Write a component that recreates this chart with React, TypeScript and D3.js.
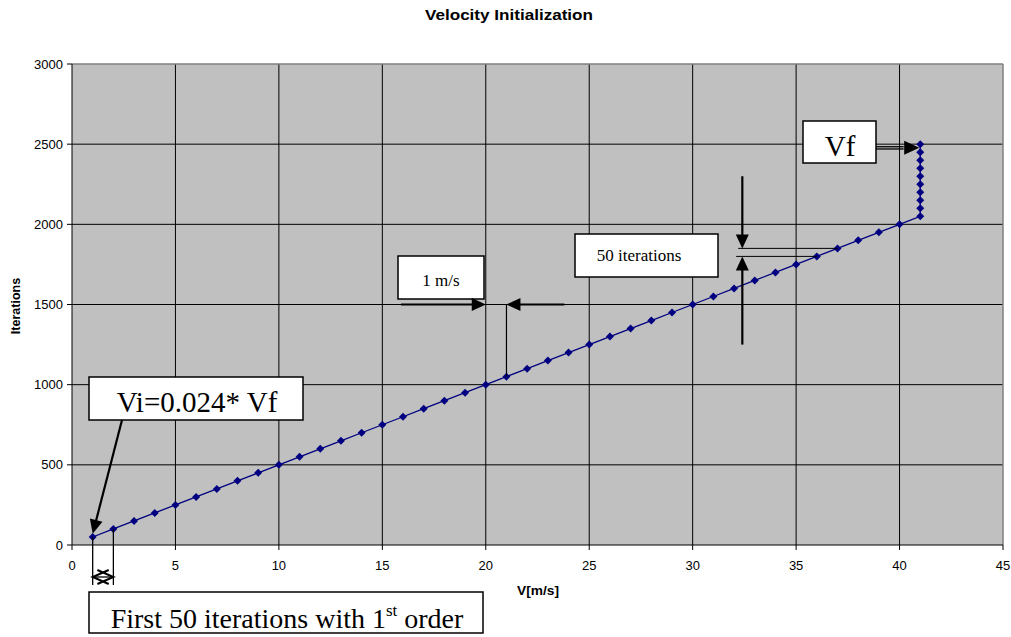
import React from "react";
import * as d3 from "d3";

const velocities: number[] = [
  1, 2, 3, 4, 5, 6, 7, 8, 9, 10, 11, 12, 13, 14, 15, 16, 17, 18, 19, 20,
  21, 22, 23, 24, 25, 26, 27, 28, 29, 30, 31, 32, 33, 34, 35, 36, 37, 38, 39, 40,
  41, 41, 41, 41, 41, 41, 41, 41, 41, 41,
];
const iterations: number[] = [
  50, 100, 150, 200, 250, 300, 350, 400, 450, 500, 550, 600, 650, 700, 750, 800, 850, 900, 950, 1000,
  1050, 1100, 1150, 1200, 1250, 1300, 1350, 1400, 1450, 1500, 1550, 1600, 1650, 1700, 1750, 1800, 1850, 1900, 1950, 2000,
  2050, 2100, 2150, 2200, 2250, 2300, 2350, 2400, 2450, 2500,
];
const xTicks: number[] = [0, 5, 10, 15, 20, 25, 30, 35, 40, 45];
const yTicks: number[] = [0, 500, 1000, 1500, 2000, 2500, 3000];

const W = 1011;
const H = 637;
const left = 72, right = 1003, top = 64, bottom = 545;
const SANS = "'Liberation Sans', Arial, sans-serif";
const SERIF = "'Liberation Serif', 'Times New Roman', serif";

function arrowHead(x: number, y: number, angle: number, len = 14, half = 6.5) {
  const bx = x - len * Math.cos(angle);
  const by = y - len * Math.sin(angle);
  const px = -Math.sin(angle) * half;
  const py = Math.cos(angle) * half;
  return `M${x},${y}L${bx + px},${by + py}L${bx - px},${by - py}Z`;
}

function Arrow({ x1, y1, x2, y2, w = 2.2 }: { x1: number; y1: number; x2: number; y2: number; w?: number }) {
  const a = Math.atan2(y2 - y1, x2 - x1);
  const len = 14;
  const ex = x2 - (len - 1) * Math.cos(a);
  const ey = y2 - (len - 1) * Math.sin(a);
  return (
    <g>
      <line x1={x1} y1={y1} x2={ex} y2={ey} stroke="#000" strokeWidth={w} />
      <path d={arrowHead(x2, y2, a, len)} fill="#000" />
    </g>
  );
}

export default function App() {
  const x = d3.scaleLinear().domain([0, 45]).range([left, right]);
  const y = d3.scaleLinear().domain([0, 3000]).range([bottom, top]);
  const pts = velocities.map((v, i) => [x(v), y(iterations[i])] as [number, number]);
  const line = d3.line()(pts) || "";
  const d = 4;

  return (
    <svg width={W} height={H} style={{ position: "absolute", left: 0, top: 0, background: "#fff" }}>
      <rect width={W} height={H} fill="#fff" />
      <text x={509} y={20} textAnchor="middle" fontFamily={SANS} fontWeight="bold" fontSize={15} textLength={168} lengthAdjust="spacingAndGlyphs">
        Velocity Initialization
      </text>

      {/* plot area */}
      <rect x={left} y={top} width={right - left} height={bottom - top} fill="#C0C0C0" />
      {xTicks.slice(1, -1).map((t) => (
        <line key={"gx" + t} x1={x(t)} x2={x(t)} y1={top} y2={bottom} stroke="#000" strokeWidth={1} />
      ))}
      {yTicks.slice(1, -1).map((t) => (
        <line key={"gy" + t} x1={left} x2={right} y1={y(t)} y2={y(t)} stroke="#000" strokeWidth={1} />
      ))}
      <line x1={left} x2={right} y1={top} y2={top} stroke="#808080" strokeWidth={1.5} />
      <line x1={right} x2={right} y1={top} y2={bottom} stroke="#808080" strokeWidth={1.5} />

      {/* axes */}
      <line x1={left} x2={left} y1={top} y2={bottom} stroke="#000" strokeWidth={1} />
      <line x1={left} x2={right} y1={bottom} y2={bottom} stroke="#000" strokeWidth={1} />
      {yTicks.map((t) => (
        <g key={"ty" + t}>
          <line x1={left - 5} x2={left} y1={y(t)} y2={y(t)} stroke="#000" />
          <text x={left - 9} y={y(t) + 4.5} textAnchor="end" fontFamily={SANS} fontSize={13}>
            {t}
          </text>
        </g>
      ))}
      {xTicks.map((t) => (
        <g key={"tx" + t}>
          <line x1={x(t)} x2={x(t)} y1={bottom} y2={bottom + 5} stroke="#000" />
          <text x={x(t)} y={bottom + 25} textAnchor="middle" fontFamily={SANS} fontSize={13}>
            {t}
          </text>
        </g>
      ))}
      <text x={538} y={595} textAnchor="middle" fontFamily={SANS} fontWeight="bold" fontSize={13} textLength={42} lengthAdjust="spacingAndGlyphs">
        V[m/s]
      </text>
      <text transform="translate(20,306) rotate(-90)" textAnchor="middle" fontFamily={SANS} fontWeight="bold" fontSize={12.5}>
        Iterations
      </text>

      {/* series */}
      <path d={line} fill="none" stroke="#000080" strokeWidth={1.3} />
      {pts.map(([px, py], i) => (
        <path key={"m" + i} d={`M${px},${py - d}L${px + d},${py}L${px},${py + d}L${px - d},${py}Z`} fill="#000080" />
      ))}

      {/* 1 m/s annotation */}
      <rect x={398} y={256} width={86} height={43} fill="#fff" stroke="#000" strokeWidth={1.5} />
      <text x={441} y={286} textAnchor="middle" fontFamily={SERIF} fontSize={17}>1 m/s</text>
      <Arrow x1={x(15.9)} y1={y(1500)} x2={x(20)} y2={y(1500)} />
      <Arrow x1={x(23.8)} y1={y(1500)} x2={x(21)} y2={y(1500)} />
      <line x1={x(21)} x2={x(21)} y1={y(1500)} y2={y(1050)} stroke="#000" strokeWidth={1.2} />

      {/* 50 iterations annotation */}
      <rect x={575} y={234} width={143} height={43} fill="#fff" stroke="#000" strokeWidth={1.5} />
      <text x={639} y={261} textAnchor="middle" fontFamily={SERIF} fontSize={17}>50 iterations</text>
      <line x1={x(32.2)} x2={x(37)} y1={y(1850)} y2={y(1850)} stroke="#000" strokeWidth={1} />
      <line x1={x(32.1)} x2={x(36)} y1={y(1800)} y2={y(1800)} stroke="#000" strokeWidth={1} />
      <Arrow x1={x(32.4)} y1={y(2300)} x2={x(32.4)} y2={y(1850)} />
      <Arrow x1={x(32.4)} y1={y(1250)} x2={x(32.4)} y2={y(1800)} />

      {/* Vf annotation */}
      <rect x={803} y={121} width={73} height={42} fill="#fff" stroke="#000" strokeWidth={1.5} />
      <text x={840} y={156} textAnchor="middle" fontFamily={SERIF} fontSize={29}>Vf</text>
      <line x1={876} x2={x(40.2)} y1={y(2484)} y2={y(2484)} stroke="#000" strokeWidth={1.3} />
      <line x1={876} x2={x(40.2)} y1={y(2470)} y2={y(2470)} stroke="#000" strokeWidth={1.3} />
      <path d={arrowHead(x(40.95), y(2477), 0, 15, 7)} fill="#000" />

      {/* Vi annotation */}
      <rect x={89} y={377} width={214} height={43} fill="#fff" stroke="#000" strokeWidth={1.5} />
      <text x={197} y={412} textAnchor="middle" fontFamily={SERIF} fontSize={29}>
        Vi=0.024* Vf
      </text>
      <Arrow x1={122} y1={420} x2={x(1)} y2={y(70)} />

      {/* First 50 iterations bracket */}
      <line x1={x(1)} x2={x(1)} y1={y(50)} y2={585} stroke="#000" strokeWidth={1.3} />
      <line x1={x(2)} x2={x(2)} y1={y(100)} y2={585} stroke="#000" strokeWidth={1.3} />
      <line x1={x(1)} x2={x(2)} y1={577} y2={577} stroke="#000" strokeWidth={1.3} />
      <path
        d={`M${x(1) + 16},${570}L${x(1)},${577}L${x(1) + 16},${584}M${x(2) - 16},${570}L${x(2)},${577}L${x(2) - 16},${584}`}
        fill="none"
        stroke="#000"
        strokeWidth={2}
      />
      <rect x={89} y={592} width={394} height={41} fill="#fff" stroke="#000" strokeWidth={1.5} />
      <text x={287} y={628} textAnchor="middle" fontFamily={SERIF} fontSize={28}>
        First 50 iterations with 1<tspan fontSize={17} dy={-12}>st</tspan>
        <tspan dy={12}> order</tspan>
      </text>
    </svg>
  );
}
